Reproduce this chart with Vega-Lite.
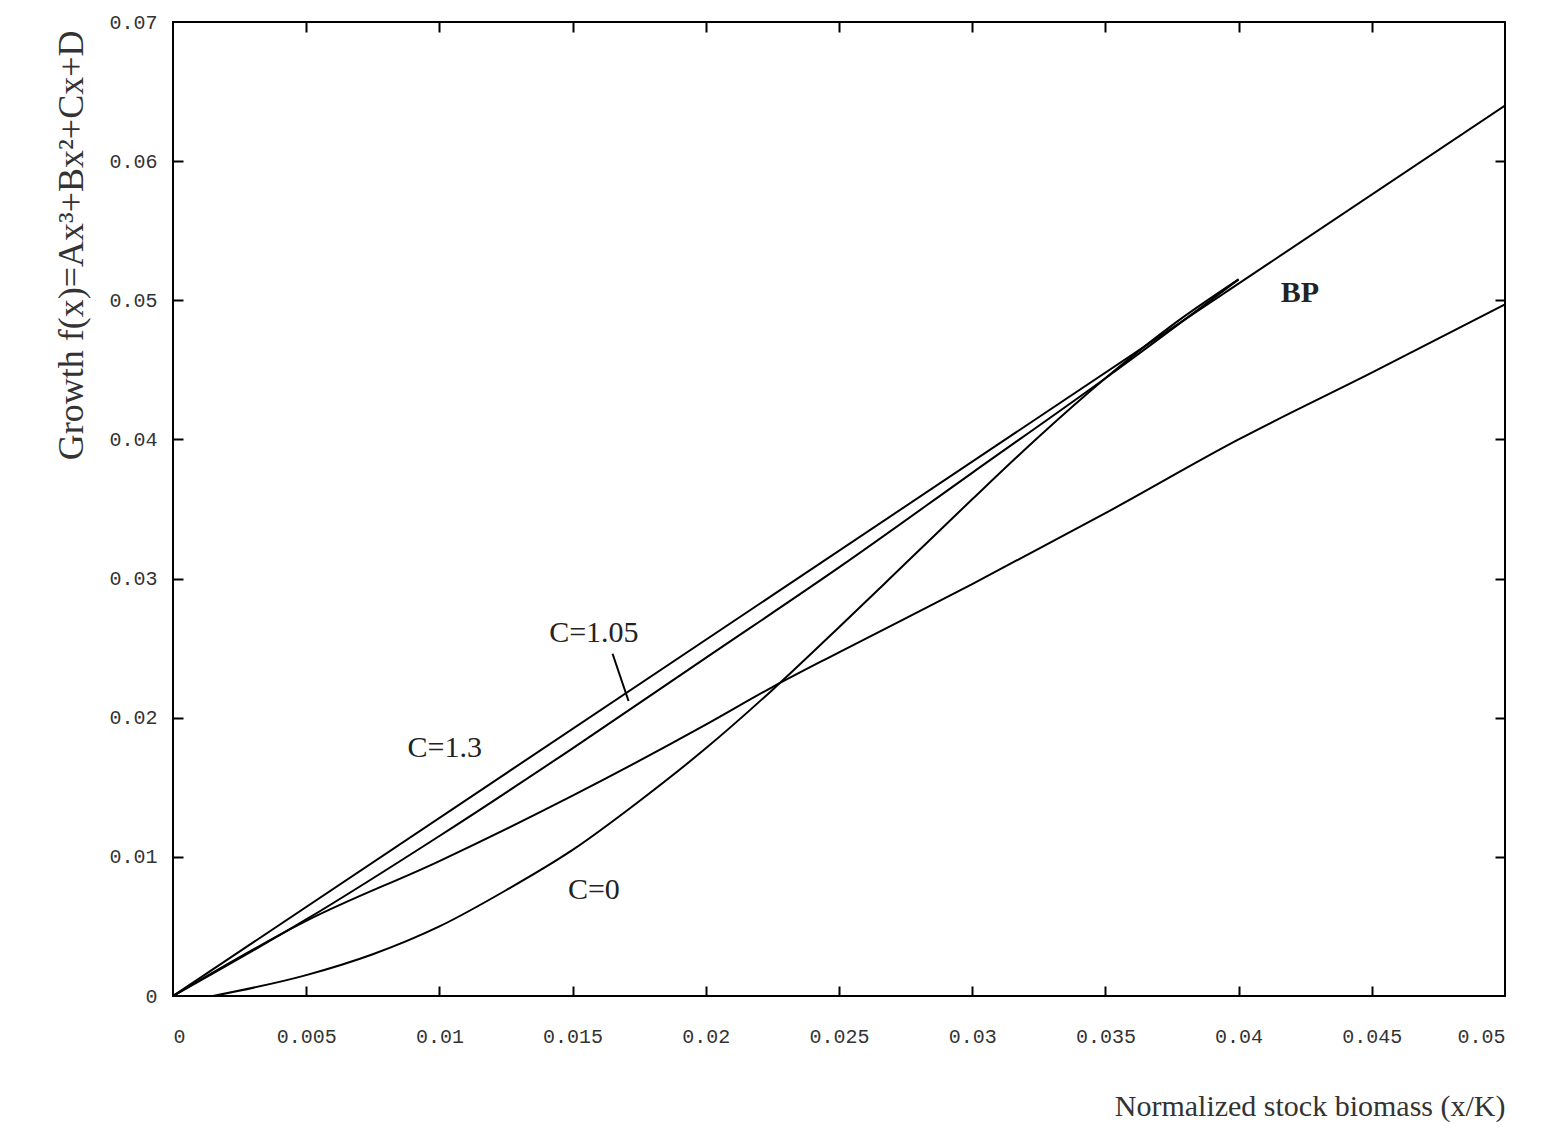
{
  "$schema": "https://vega.github.io/schema/vega-lite/v6.json",
  "width": 1332,
  "height": 974,
  "autosize": {"type": "none"},
  "padding": {"left": 173, "top": 22, "right": 43, "bottom": 133},
  "background": "white",
  "config": {"view": {"stroke": "black", "strokeWidth": 2}},
  "resolve": {"axis": {"x": "independent", "y": "independent"}},
  "layer": [
    {
      "data": {
        "values": [
          {"s": "A", "x": 0, "y": 0}, {"s": "A", "x": 0.05, "y": 0.064},
          {"s": "B", "x": 0, "y": 0}, {"s": "B", "x": 0.005, "y": 0.0055}, {"s": "B", "x": 0.01, "y": 0.0115},
          {"s": "B", "x": 0.015, "y": 0.0178}, {"s": "B", "x": 0.02, "y": 0.0243}, {"s": "B", "x": 0.025, "y": 0.0308},
          {"s": "B", "x": 0.03, "y": 0.0376}, {"s": "B", "x": 0.035, "y": 0.0444}, {"s": "B", "x": 0.04, "y": 0.0515},
          {"s": "C", "x": 0, "y": 0}, {"s": "C", "x": 0.005, "y": 0.0054}, {"s": "C", "x": 0.01, "y": 0.0097},
          {"s": "C", "x": 0.015, "y": 0.0144}, {"s": "C", "x": 0.02, "y": 0.0195}, {"s": "C", "x": 0.0225, "y": 0.0222},
          {"s": "C", "x": 0.025, "y": 0.0247}, {"s": "C", "x": 0.03, "y": 0.0296}, {"s": "C", "x": 0.035, "y": 0.0347},
          {"s": "C", "x": 0.04, "y": 0.040}, {"s": "C", "x": 0.045, "y": 0.0448}, {"s": "C", "x": 0.05, "y": 0.0497},
          {"s": "D", "x": 0.0015, "y": 0}, {"s": "D", "x": 0.005, "y": 0.0015}, {"s": "D", "x": 0.0075, "y": 0.003},
          {"s": "D", "x": 0.01, "y": 0.005}, {"s": "D", "x": 0.0125, "y": 0.0076}, {"s": "D", "x": 0.015, "y": 0.0105},
          {"s": "D", "x": 0.0175, "y": 0.014}, {"s": "D", "x": 0.02, "y": 0.0178}, {"s": "D", "x": 0.0225, "y": 0.022},
          {"s": "D", "x": 0.025, "y": 0.0265}, {"s": "D", "x": 0.0275, "y": 0.0311}, {"s": "D", "x": 0.03, "y": 0.0357},
          {"s": "D", "x": 0.0325, "y": 0.0402}, {"s": "D", "x": 0.035, "y": 0.0444}, {"s": "D", "x": 0.0375, "y": 0.0482},
          {"s": "D", "x": 0.04, "y": 0.0515}
        ]
      },
      "mark": {"type": "line", "color": "black", "strokeWidth": 2, "interpolate": "monotone", "clip": true},
      "encoding": {
        "x": {
          "field": "x", "type": "quantitative", "scale": {"domain": [0, 0.05], "nice": false},
          "axis": {
            "orient": "bottom",
            "values": [0, 0.005, 0.01, 0.015, 0.02, 0.025, 0.03, 0.035, 0.04, 0.045, 0.05],
            "format": "~g", "ticks": false, "domain": false, "grid": false,
            "labelFont": "Liberation Mono", "labelFontSize": 20, "labelColor": "#333", "labelPadding": 30,
            "title": "Normalized stock biomass (x/K)", "titleFont": "Liberation Serif", "titleFontSize": 30,
            "titleFontWeight": "normal", "titleColor": "#333", "titleAnchor": "end", "titlePadding": 45
          }
        },
        "y": {
          "field": "y", "type": "quantitative", "scale": {"domain": [0, 0.07], "nice": false},
          "axis": {
            "orient": "left",
            "values": [0, 0.01, 0.02, 0.03, 0.04, 0.05, 0.06, 0.07],
            "format": "~g", "ticks": false, "domain": false, "grid": false,
            "labelFont": "Liberation Mono", "labelFontSize": 20, "labelColor": "#333", "labelPadding": 16,
            "title": "Growth  f(x)=Ax³+Bx²+Cx+D", "titleFont": "Liberation Serif", "titleFontSize": 36,
            "titleFontWeight": "normal", "titleColor": "#333", "titleAnchor": "end", "titlePadding": 18, "titleY": 8
          }
        },
        "detail": {"field": "s"}
      }
    },
    {
      "data": {"values": [{"x": 0.0165, "y": 0.0246, "x2": 0.0171, "y2": 0.0212}]},
      "mark": {"type": "rule", "color": "black", "strokeWidth": 2},
      "encoding": {
        "x": {"field": "x", "type": "quantitative", "axis": {
          "orient": "bottom", "offset": -10, "tickSize": 10, "tickWidth": 2, "tickColor": "black",
          "labels": false, "domain": false, "grid": false, "title": null,
          "values": [0.005, 0.01, 0.015, 0.02, 0.025, 0.03, 0.035, 0.04, 0.045]}},
        "y": {"field": "y", "type": "quantitative", "axis": {
          "orient": "left", "offset": -10, "tickSize": 10, "tickWidth": 2, "tickColor": "black",
          "labels": false, "domain": false, "grid": false, "title": null,
          "values": [0.01, 0.02, 0.03, 0.04, 0.05, 0.06]}},
        "x2": {"field": "x2"},
        "y2": {"field": "y2"}
      }
    },
    {
      "data": {
        "values": [
          {"label": "C=1.05", "x": 0.0158, "y": 0.0261},
          {"label": "C=1.3", "x": 0.0102, "y": 0.0178},
          {"label": "C=0", "x": 0.0158, "y": 0.0076}
        ]
      },
      "mark": {"type": "text", "font": "Liberation Serif", "fontSize": 30, "color": "#222"},
      "encoding": {
        "x": {"field": "x", "type": "quantitative", "axis": {
          "orient": "top", "offset": -10, "tickSize": 10, "tickWidth": 2, "tickColor": "black",
          "labels": false, "domain": false, "grid": false, "title": null,
          "values": [0.005, 0.01, 0.015, 0.02, 0.025, 0.03, 0.035, 0.04, 0.045]}},
        "y": {"field": "y", "type": "quantitative", "axis": {
          "orient": "right", "offset": -10, "tickSize": 10, "tickWidth": 2, "tickColor": "black",
          "labels": false, "domain": false, "grid": false, "title": null,
          "values": [0.01, 0.02, 0.03, 0.04, 0.05, 0.06]}},
        "text": {"field": "label"}
      }
    },
    {
      "data": {"values": [{"label": "BP", "x": 0.0423, "y": 0.0505}]},
      "mark": {"type": "text", "font": "Liberation Serif", "fontSize": 30, "fontWeight": "bold", "color": "#222"},
      "encoding": {
        "x": {"field": "x", "type": "quantitative", "axis": null},
        "y": {"field": "y", "type": "quantitative", "axis": null},
        "text": {"field": "label"}
      }
    }
  ]
}
